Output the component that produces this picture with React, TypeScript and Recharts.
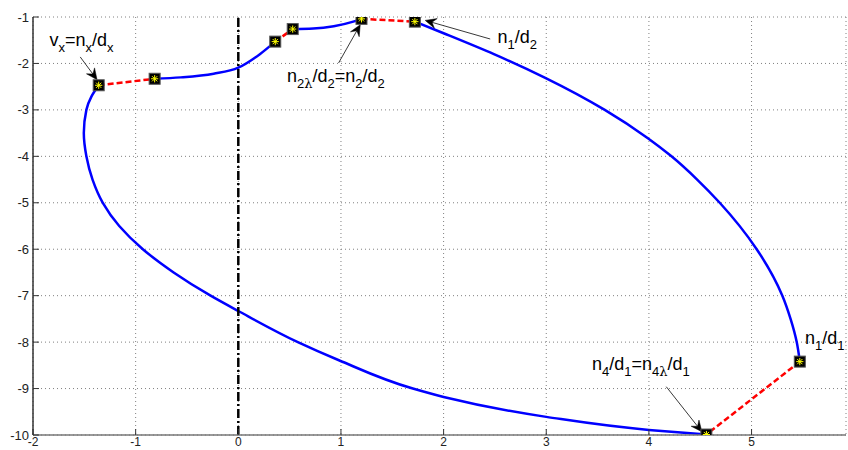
import React from 'react';
import {
  ComposedChart,
  Line,
  Scatter,
  XAxis,
  YAxis,
  CartesianGrid,
  ReferenceLine,
  ReferenceDot,
} from 'recharts';

type Pt = { x: number; y: number };

// Axis ticks
const xTicks = [-2, -1, 0, 1, 2, 3, 4, 5];
const yTicks = [-10, -9, -8, -7, -6, -5, -4, -3, -2, -1];
const xDomain: [number, number] = [-2, 5.92];
const yDomain: [number, number] = [-10, -1];

// Key points (v_x, ..., n1/d1, n4/d1)
const markerPoints: Pt[] = [
  { x: -1.36, y: -2.47 },
  { x: -0.815, y: -2.33 },
  { x: 0.36, y: -1.53 },
  { x: 0.53, y: -1.26 },
  { x: 1.2, y: -1.04 },
  { x: 1.72, y: -1.1 },
  { x: 5.47, y: -8.42 },
  { x: 4.56, y: -9.99 },
];

// Solid locus branches
const upperLeftBranch: Pt[] = [
  { x: -0.815, y: -2.33 },
  { x: -0.56, y: -2.3 },
  { x: -0.24, y: -2.22 },
  { x: 0.0, y: -2.09 },
  { x: 0.21, y: -1.8 },
  { x: 0.36, y: -1.53 },
];
const upperMidBranch: Pt[] = [
  { x: 0.53, y: -1.26 },
  { x: 0.73, y: -1.25 },
  { x: 0.93, y: -1.2 },
  { x: 1.12, y: -1.1 },
  { x: 1.2, y: -1.04 },
];
const rightBranch: Pt[] = [
  { x: 1.72, y: -1.1 },
  { x: 2.0, y: -1.35 },
  { x: 2.49, y: -1.8 },
  { x: 2.99, y: -2.31 },
  { x: 3.57, y: -3.0 },
  { x: 3.99, y: -3.61 },
  { x: 4.22, y: -4.0 },
  { x: 4.47, y: -4.5 },
  { x: 4.69, y: -5.0 },
  { x: 5.05, y: -6.0 },
  { x: 5.3, y: -7.0 },
  { x: 5.38, y: -7.5 },
  { x: 5.44, y: -8.0 },
  { x: 5.47, y: -8.42 },
];
const lowerBranch: Pt[] = [
  { x: 4.56, y: -9.99 },
  { x: 4.0, y: -9.89 },
  { x: 3.0, y: -9.61 },
  { x: 2.0, y: -9.18 },
  { x: 1.7, y: -9.0 },
  { x: 0.98, y: -8.39 },
  { x: 0.58, y: -8.0 },
  { x: 0.0, y: -7.33 },
  { x: -0.27, y: -7.0 },
  { x: -0.63, y: -6.5 },
  { x: -0.93, y: -6.0 },
  { x: -1.16, y: -5.5 },
  { x: -1.32, y: -5.0 },
  { x: -1.42, y: -4.5 },
  { x: -1.48, y: -4.0 },
  { x: -1.505, y: -3.5 },
  { x: -1.48, y: -3.0 },
  { x: -1.43, y: -2.71 },
  { x: -1.36, y: -2.47 },
];

// Dashed jumps between the key points
const jumpVx: Pt[] = [
  { x: -1.36, y: -2.47 },
  { x: -0.815, y: -2.33 },
];
const jumpUpper: Pt[] = [
  { x: 0.36, y: -1.53 },
  { x: 0.53, y: -1.26 },
];
const jumpTop: Pt[] = [
  { x: 1.2, y: -1.04 },
  { x: 1.72, y: -1.1 },
];
const jumpRight: Pt[] = [
  { x: 5.47, y: -8.42 },
  { x: 4.56, y: -9.99 },
];

// Annotation arrows: [from, to]
const arrowVx: [Pt, Pt] = [{ x: -1.54, y: -1.86 }, { x: -1.376, y: -2.35 }];
const arrowN2: [Pt, Pt] = [{ x: 0.977, y: -1.99 }, { x: 1.188, y: -1.166 }];
const arrowN1D2: [Pt, Pt] = [{ x: 2.454, y: -1.474 }, { x: 1.821, y: -1.073 }];
const arrowN4: [Pt, Pt] = [{ x: 4.169, y: -8.96 }, { x: 4.516, y: -9.93 }];

// Annotation texts, anchored at the left end of the baseline
type Seg = { t: string; sub?: boolean; greek?: boolean };
const labelVx: Seg[] = [
  { t: 'v' }, { t: 'x', sub: true }, { t: '=n' }, { t: 'x', sub: true }, { t: '/d' }, { t: 'x', sub: true },
];
const labelN2: Seg[] = [
  { t: 'n' }, { t: '2', sub: true }, { t: 'λ', sub: true, greek: true }, { t: '/d' }, { t: '2', sub: true },
  { t: '=n' }, { t: '2', sub: true }, { t: '/d' }, { t: '2', sub: true },
];
const labelN1D2: Seg[] = [{ t: 'n' }, { t: '1', sub: true }, { t: '/d' }, { t: '2', sub: true }];
const labelN1D1: Seg[] = [{ t: 'n' }, { t: '1', sub: true }, { t: '/d' }, { t: '1', sub: true }];
const labelN4: Seg[] = [
  { t: 'n' }, { t: '4', sub: true }, { t: '/d' }, { t: '1', sub: true }, { t: '=n' }, { t: '4', sub: true },
  { t: 'λ', sub: true, greek: true }, { t: '/d' }, { t: '1', sub: true },
];
const labels: { at: Pt; segs: Seg[] }[] = [
  { at: { x: -1.84, y: -1.62 }, segs: labelVx },
  { at: { x: 0.474, y: -2.39 }, segs: labelN2 },
  { at: { x: 2.526, y: -1.56 }, segs: labelN1D2 },
  { at: { x: 5.52, y: -8.03 }, segs: labelN1D1 },
  { at: { x: 3.445, y: -8.6 }, segs: labelN4 },
];

const FONT = '"Liberation Sans", Arial, Helvetica, sans-serif';
const MAIN_SIZE = 18;
const SUB_SIZE = 13;
const SUB_SHIFT = 6;

const renderLabel = (segs: Seg[]) => (props: any) => {
  const { cx, cy } = props;
  let level = 0;
  return (
    <text x={cx} y={cy} fontFamily={FONT} fontSize={MAIN_SIZE} fill="#000">
      {segs.map((s, i) => {
        const target = s.sub ? SUB_SHIFT : 0;
        const dy = target - level;
        level = target;
        return (
          <tspan
            key={i}
            dy={dy}
            fontSize={s.sub ? SUB_SIZE : MAIN_SIZE}
            fontFamily={s.greek ? '"DejaVu Serif", "Liberation Serif", serif' : FONT}
          >
            {s.t}
          </tspan>
        );
      })}
    </text>
  );
};

const ArrowShape = (props: any) => {
  const { x1, y1, x2, y2 } = props;
  const dx = x2 - x1;
  const dy = y2 - y1;
  const len = Math.sqrt(dx * dx + dy * dy) || 1;
  const ux = dx / len;
  const uy = dy / len;
  const px = -uy;
  const py = ux;
  const L = 11;
  const W = 5;
  const back = 7;
  const bx = x2 - ux * L;
  const by = y2 - uy * L;
  const nx = x2 - ux * back;
  const ny = y2 - uy * back;
  const head = `M${x2},${y2} L${bx + px * W},${by + py * W} L${nx},${ny} L${bx - px * W},${by - py * W} Z`;
  return (
    <g>
      <line x1={x1} y1={y1} x2={nx} y2={ny} stroke="#222" strokeWidth={0.9} />
      <path d={head} fill="#000" stroke="#000" strokeWidth={0.5} />
    </g>
  );
};

const MarkerShape = (props: any) => {
  const { cx, cy } = props;
  const r = 3.6;
  const d = r * 0.72;
  return (
    <g>
      <rect x={cx - 5.5} y={cy - 5.5} width={11} height={11} fill="#000" stroke="#555" strokeWidth={1} />
      <g stroke="#ffff00" strokeWidth={1}>
        <line x1={cx - r} y1={cy} x2={cx + r} y2={cy} />
        <line x1={cx} y1={cy - r} x2={cx} y2={cy + r} />
        <line x1={cx - d} y1={cy - d} x2={cx + d} y2={cy + d} />
        <line x1={cx - d} y1={cy + d} x2={cx + d} y2={cy - d} />
      </g>
    </g>
  );
};

const XTick = (props: any) => {
  const { x, y, payload } = props;
  return (
    <g>
      <line x1={x} y1={y} x2={x} y2={y - 6} stroke="#333" strokeWidth={1} />
      <text x={x} y={y + 11} textAnchor="middle" fontFamily={FONT} fontSize={12} fill="#222">
        {payload.value}
      </text>
    </g>
  );
};

const YTick = (props: any) => {
  const { x, y, payload } = props;
  return (
    <g>
      <line x1={x} y1={y} x2={x + 6} y2={y} stroke="#333" strokeWidth={1} />
      <text x={x - 4} y={y} textAnchor="end" dominantBaseline="central" fontFamily={FONT} fontSize={13} fill="#222">
        {payload.value}
      </text>
    </g>
  );
};

const solid = {
  dataKey: 'y',
  stroke: '#0000ff',
  strokeWidth: 2.5,
  dot: false,
  activeDot: false,
  isAnimationActive: false,
};
const dashed = {
  type: 'linear' as const,
  dataKey: 'y',
  stroke: '#ff0000',
  strokeWidth: 2.5,
  strokeDasharray: '6 3',
  dot: false,
  activeDot: false,
  isAnimationActive: false,
};

export default function App() {
  return (
    <div style={{ position: 'absolute', left: 0, top: 0, background: '#fff' }}>
      <ComposedChart width={848} height={450} margin={{ top: 17, right: 2, bottom: 0, left: 0 }}>
        <CartesianGrid stroke="#808080" strokeDasharray="1 3" strokeWidth={1} />
        <XAxis
          type="number"
          dataKey="x"
          domain={xDomain}
          ticks={xTicks}
          interval={0}
          allowDataOverflow
          height={15}
          tickSize={0}
          tickMargin={0}
          tickLine={false}
          tick={<XTick />}
          axisLine={{ stroke: '#777', strokeWidth: 1.5 }}
        />
        <YAxis
          type="number"
          dataKey="y"
          domain={yDomain}
          ticks={yTicks}
          interval={0}
          allowDataOverflow
          width={33}
          tickSize={0}
          tickMargin={0}
          tickLine={false}
          tick={<YTick />}
          axisLine={{ stroke: '#333', strokeWidth: 1.5 }}
        />
        <Line data={upperLeftBranch} type="monotoneX" {...solid} />
        <Line data={upperMidBranch} type="monotoneX" {...solid} />
        <Line data={rightBranch} type="monotoneY" {...solid} />
        <Line data={lowerBranch} type="monotoneY" {...solid} />
        <Line data={jumpVx} {...dashed} />
        <Line data={jumpUpper} {...dashed} />
        <Line data={jumpTop} {...dashed} />
        <Line data={jumpRight} {...dashed} />
        <ReferenceLine x={0} stroke="#000" strokeWidth={2.5} strokeDasharray="9 3 2 3" />
        {[arrowVx, arrowN2, arrowN1D2, arrowN4].map((a, i) => (
          <ReferenceLine key={`arrow-${i}`} segment={a} ifOverflow="visible" shape={ArrowShape} />
        ))}
        {labels.map((l, i) => (
          <ReferenceDot
            key={`label-${i}`}
            x={l.at.x}
            y={l.at.y}
            r={0}
            ifOverflow="visible"
            shape={renderLabel(l.segs)}
          />
        ))}
        <Scatter data={markerPoints} dataKey="y" shape={MarkerShape} isAnimationActive={false} />
      </ComposedChart>
    </div>
  );
}
